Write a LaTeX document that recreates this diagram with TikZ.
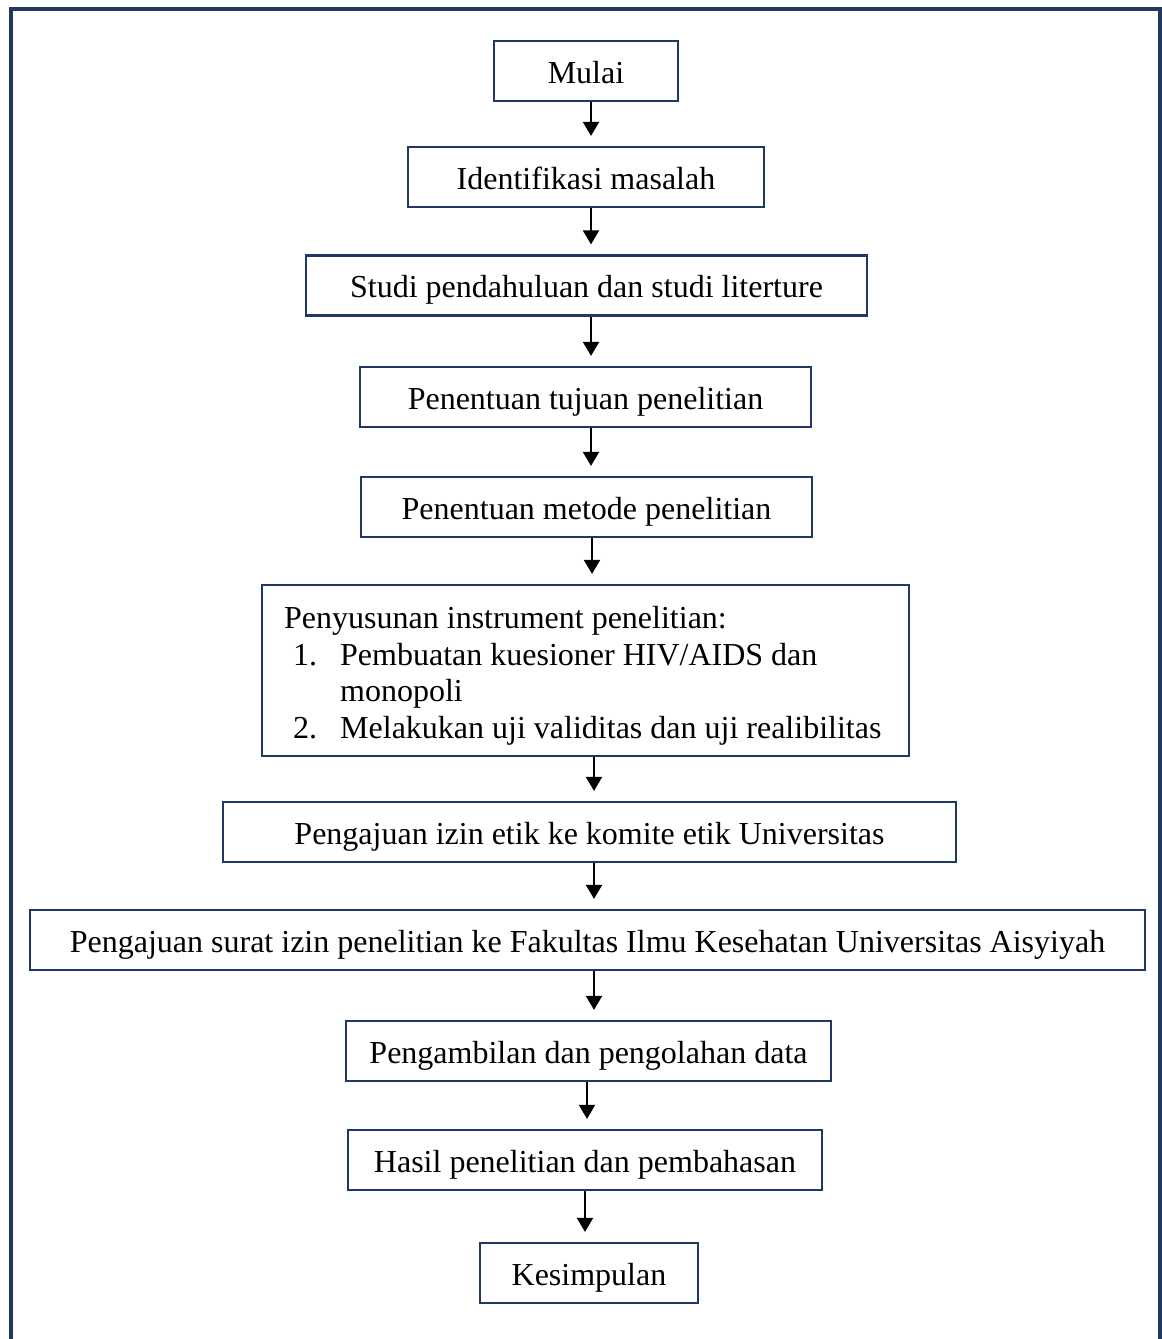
\documentclass[tikz,border=0pt]{standalone}
\usepackage{fontspec}
\setmainfont{Liberation Serif}
\usetikzlibrary{arrows.meta}
\definecolor{navy}{HTML}{1F3864}
\tikzset{
  box/.style={draw=navy, line width=2.2pt, fill=white, minimum height=60pt, inner sep=0pt, text height=24pt, text depth=0pt, font=\fontsize{32}{37}\selectfont},
  txt/.style={anchor=base west, inner sep=0pt, font=\fontsize{32}{37}\selectfont},
  arr/.style={draw=black, line width=2pt, -{Triangle[width=16pt,length=14pt]}, shorten >=10pt},
  frame/.style={draw=navy, line width=4pt}
}
\begin{document}
\begin{tikzpicture}[x=1pt,y=-1pt]
\useasboundingbox (0,0) rectangle (1162,1339);
\draw[frame] (11,1339) -- (11,9) -- (1160,9) -- (1160,1339);

\node[box, minimum width=184pt] (n1) at (586,71) {Mulai};
\node[box, minimum width=356pt] (n2) at (586,177) {Identifikasi masalah};
\node[box, minimum width=561pt] (n3) at (586.5,285.5) {Studi pendahuluan dan studi literture};
\node[box, minimum width=451pt] (n4) at (585.5,397) {Penentuan tujuan penelitian};
\node[box, minimum width=451pt] (n5) at (586.5,507) {Penentuan metode penelitian};
\node[box, minimum width=647pt, minimum height=171pt] (n6) at (585.5,670.5) {};
\node[txt] (t0) at (284,628) {Penyusunan instrument penelitian:};
\node[txt] (t1n) at (293,665) {1.};
\node[txt] (t1) at (340,665) {Pembuatan kuesioner HIV/AIDS dan};
\node[txt] (t1b) at (340,701) {monopoli};
\node[txt] (t2n) at (293,738) {2.};
\node[txt] (t2) at (340,738) {Melakukan uji validitas dan uji realibilitas};
\node[box, minimum width=733pt] (n7) at (589.5,832) {Pengajuan izin etik ke komite etik Universitas};
\node[box, minimum width=1115pt] (n8) at (587.5,940) {Pengajuan surat izin penelitian ke Fakultas Ilmu Kesehatan Universitas Aisyiyah};
\node[box, minimum width=485pt] (n9) at (588.5,1051) {Pengambilan dan pengolahan data};
\node[box, minimum width=474pt] (n10) at (585,1160) {Hasil penelitian dan pembahasan};
\node[box, minimum width=218pt] (n11) at (589,1273) {Kesimpulan};

\coordinate (a1) at (591,0);
\coordinate (a2) at (591,0);
\coordinate (a3) at (591,0);
\coordinate (a4) at (591,0);
\coordinate (a5) at (592,0);
\coordinate (a6) at (594,0);
\coordinate (a7) at (594,0);
\coordinate (a8) at (594,0);
\coordinate (a9) at (587,0);
\coordinate (a10) at (585,0);

\draw[arr] (n1.south -| a1) -- (n2.north -| a1);
\draw[arr] (n2.south -| a2) -- (n3.north -| a2);
\draw[arr] (n3.south -| a3) -- (n4.north -| a3);
\draw[arr] (n4.south -| a4) -- (n5.north -| a4);
\draw[arr] (n5.south -| a5) -- (n6.north -| a5);
\draw[arr] (n6.south -| a6) -- (n7.north -| a6);
\draw[arr] (n7.south -| a7) -- (n8.north -| a7);
\draw[arr] (n8.south -| a8) -- (n9.north -| a8);
\draw[arr] (n9.south -| a9) -- (n10.north -| a9);
\draw[arr] (n10.south -| a10) -- (n11.north -| a10);
\end{tikzpicture}
\end{document}
